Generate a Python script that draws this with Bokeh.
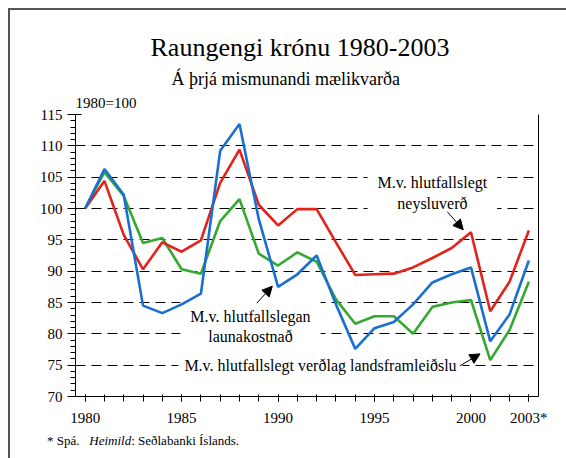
from bokeh.plotting import figure
from bokeh.layouts import column
from bokeh.models import (FixedTicker, Label, Arrow, NormalHead, LinearAxis, Range1d, Title, Div)
from bokeh.embed import file_html
from bokeh.resources import INLINE

years = list(range(1980, 2004))
neysluverd = [100, 104.4, 95.8, 90.3, 94.6, 93.1, 94.9, 104.1, 109.4, 100.6, 97.3, 99.9,
              99.9, 94.6, 89.4, 89.5, 89.6, 90.6, 92.1, 93.7, 96.2, 83.6, 88.3, 96.5]
launakostnadur = [100, 106.3, 102.2, 84.5, 83.3, 84.7, 86.4, 109.2, 113.5, 98.3, 87.5, 89.5,
                  92.5, 84.7, 77.6, 80.9, 81.9, 84.7, 88.2, 89.5, 90.6, 78.8, 83.1, 91.7]
landsframleidsla = [100, 105.8, 102.0, 94.5, 95.3, 90.3, 89.6, 98.0, 101.5, 92.8, 90.9, 93.0,
                    91.5, 85.5, 81.6, 82.8, 82.8, 80.0, 84.3, 85.0, 85.4, 75.8, 80.6, 88.3]
x_labels = {1980: "1980", 1985: "1985", 1990: "1990", 1995: "1995", 2000: "2000", 2003: "2003*"}
y_ticks = list(range(70, 116, 5))

FONT = "Liberation Serif"
RED, BLUE, GREEN = "#e3221c", "#1a6fd2", "#35a832"

p = figure(width=554, height=418, output_backend="svg", toolbar_location=None, title=None,
           x_range=Range1d(1979.5, 2003.5), y_range=Range1d(70, 115),
           min_border_left=65, min_border_right=26, min_border_top=104, min_border_bottom=32)
p.outline_line_color = None
p.xgrid.grid_line_color = None
p.ygrid.grid_line_color = "black"
p.ygrid.grid_line_dash = "10 6"
p.ygrid.grid_line_width = 1

xa = p.xaxis[0]
xa.ticker = FixedTicker(ticks=list(x_labels.keys()), minor_ticks=years)
xa.major_label_overrides = x_labels
xa.major_tick_in, xa.major_tick_out = 2, 5
xa.minor_tick_in, xa.minor_tick_out = 2, 5
xa.major_label_standoff = 8
ya = p.yaxis[0]
ya.ticker = FixedTicker(ticks=y_ticks, minor_ticks=list(range(70, 116)))
ya.major_tick_in, ya.major_tick_out = 6, 8
ya.minor_tick_in, ya.minor_tick_out = 0, 5
for ax in (xa, ya):
    ax.axis_line_color = "black"
    ax.major_tick_line_color = "black"
    ax.minor_tick_line_color = "black"
    ax.major_label_text_font = FONT
    ax.major_label_text_font_size = "15px"
    ax.major_label_text_color = "black"

right = LinearAxis(ticker=FixedTicker(ticks=[]), axis_line_color="black",
                   major_tick_line_color=None, minor_tick_line_color=None)
p.add_layout(right, "right")

for vals, col in ((landsframleidsla, GREEN), (neysluverd, RED), (launakostnadur, BLUE)):
    r = p.line(years, vals, line_color=col, line_width=2.6)
    r.level = "overlay"

# titles above the plot (first added sits closest to the plot)
for text, size, offset, standoff in (("1980=100", "15px", 0, 7),
                                     ("Á þrjá mismunandi mælikvarða", "18px", 96, 1),
                                     ("Raungengi krónu 1980-2003", "26px", 75, 10)):
    p.add_layout(Title(text=text, text_font=FONT, text_font_size=size, text_font_style="normal",
                       text_color="black", align="left", offset=offset, standoff=standoff), "above")

def lab(**kw):
    base = dict(text_font=FONT, text_color="black", text_font_size="16px",
                text_align="center", text_baseline="middle", background_fill_color="white")
    base.update(kw)
    p.add_layout(Label(**base))

lab(x=1998.0, y=102.5, text="M.v. hlutfallslegt\nneysluverð", padding=10)
lab(x=1988.57, y=81.2, text="M.v. hlutfallslegan\nlaunakostnað", padding=10)
lab(x=1992.2, y=74.9, text="M.v. hlutfallslegt verðlag landsframleiðslu", padding=6)

for xs, ys, xe, ye in ((1998.77, 99.5, 1999.6, 96.6), (1988.9, 84.9, 1989.7, 87.6),
                       (1999.43, 74.9, 2000.47, 76.8)):
    p.add_layout(Arrow(x_start=xs, y_start=ys, x_end=xe, y_end=ye, line_width=1,
                       end=NormalHead(size=10, fill_color="black", line_color="black")))

footer = Div(width=554, height=28,
             text='<div style="font-family: \'Liberation Serif\'; font-size: 13px; line-height: 15px; '
                  'margin: 0 0 0 32px; white-space: pre; color: black;">* Spá.   '
                  '<i>Heimild</i>: Seðlabanki Íslands.</div>')

layout = column(p, footer, spacing=0,
                styles={"margin-left": "8px", "margin-top": "8px",
                        "border-left": "2px solid #555", "border-top": "2px solid #555"})

open("out.html", "w").write(file_html(layout, INLINE))
